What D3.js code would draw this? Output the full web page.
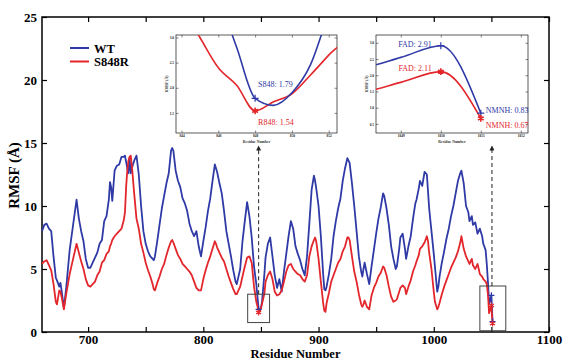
<!DOCTYPE html>
<html>
<head>
<meta charset="utf-8">
<script src="https://cdn.jsdelivr.net/npm/d3@7"></script>
<style>
  body { margin: 0; background: #fff; }
  svg text { font-family: "Liberation Serif", "Times New Roman", serif; }
</style>
</head>
<body>
<svg id="chart" width="564" height="361"></svg>
<script>
// residue numbers and RMSF (A) for the two systems
const residues = [660,662,664,666,668,670,672,673,675,676,677,679,681,684,687,690,692,694,696,698,
  700,702,704,706,708,710,712,714,716,718,719,720,721,723,725,727,729,731,732,733,734,735,736,737,738,740,742,744,746,748,
  750,752,754,756,757,758,760,762,764,766,768,770,772,773,774,776,778,780,782,784,786,788,790,792,794,796,798,
  800,802,804,806,808,810,811,812,814,816,818,820,822,824,826,828,829,830,832,834,836,838,840,842,844,845,846,847,848,849,
  850,851,852,853,854,856,858,860,862,864,866,868,870,872,874,876,878,880,882,884,886,888,890,892,894,896,897,898,
  900,902,904,905,906,907,909,911,913,915,917,919,921,923,925,926,927,929,931,933,935,937,938,939,940,942,944,946,948,
  950,952,954,956,957,959,961,963,965,967,968,970,971,973,975,976,978,980,982,984,985,987,988,990,992,994,995,996,998,
  1000,1001,1003,1004,1005,1007,1009,1011,1013,1015,1017,1019,1021,1023,1024,1026,1028,1030,1031,1033,1034,1036,1038,
  1040,1042,1043,1045,1046,1047,1048,1049,1050,1051];
const wtRmsf = [8.0,8.5,8.6,8.2,8.0,6.0,4.3,4.1,3.6,3.9,3.3,1.9,3.5,6.5,8.5,10.5,9.0,8.0,7.2,5.8,
  5.1,5.1,5.5,5.9,6.3,7.0,7.3,8.8,9.2,10.5,11.9,11.5,10.4,12.8,13.2,13.3,13.9,13.9,14.0,13.5,13.0,12.6,13.8,12.6,13.0,13.6,14.0,12.5,10.0,8.0,
  7.0,6.4,6.0,5.8,5.7,6.0,7.2,8.5,9.8,10.8,11.8,12.6,14.4,14.6,14.4,12.8,12.0,11.5,10.6,10.2,9.6,8.6,8.0,7.6,8.0,6.8,6.0,
  7.2,8.3,9.6,10.6,12.0,13.3,13.0,12.7,11.8,11.0,9.6,8.0,7.0,6.0,4.9,4.0,3.8,4.2,5.0,7.2,8.8,10.3,9.2,7.5,5.2,4.5,3.8,2.8,1.79,1.65,
  1.9,2.45,3.5,4.6,5.9,7.0,7.5,6.0,4.5,3.5,4.2,3.2,4.8,6.2,7.6,8.8,8.2,6.8,6.2,5.7,5.0,4.5,6.0,8.6,11.3,12.4,12.0,11.4,
  10.0,7.6,4.6,3.4,3.3,3.6,4.6,5.8,7.6,8.8,9.8,10.6,12.0,13.0,13.8,13.6,13.4,11.8,10.0,8.0,6.0,4.8,4.4,5.0,5.5,4.6,3.8,5.2,6.5,
  7.8,9.0,9.9,11.0,10.8,9.8,8.5,6.8,5.8,5.0,5.2,6.6,7.5,7.8,6.6,5.8,6.8,7.6,9.0,10.2,10.5,11.4,12.0,11.6,12.7,12.5,11.2,9.8,8.0,
  6.2,5.2,3.2,3.6,4.4,5.5,6.4,7.4,8.2,9.2,10.0,11.0,12.0,12.6,12.8,11.8,10.0,9.5,8.8,9.2,8.5,8.7,7.8,
  8.2,7.6,7.0,6.5,5.4,4.0,2.25,2.55,2.91,0.83];
const mutRmsf = [5.4,5.6,5.7,5.3,4.9,3.8,2.4,2.2,3.3,3.2,2.8,1.8,3.0,4.6,5.8,7.0,6.3,5.6,5.0,4.2,
  3.7,3.6,3.8,4.0,4.5,4.8,5.5,5.7,6.2,6.4,6.8,7.0,7.3,7.6,7.8,8.0,8.2,8.9,9.5,11.5,12.8,13.6,13.9,14.0,13.2,11.0,9.0,8.2,7.0,6.3,
  5.5,4.9,4.4,3.8,3.4,3.3,3.9,4.4,5.0,5.4,6.1,6.7,7.2,7.3,7.1,6.6,6.1,5.8,5.4,5.2,5.0,4.8,4.5,4.0,3.5,3.3,3.3,
  4.2,4.9,5.5,6.0,6.6,7.2,7.0,6.7,6.3,5.9,5.6,5.0,4.4,3.9,3.4,3.0,3.0,3.2,3.6,4.4,5.2,5.9,6.0,5.5,3.6,3.0,2.4,2.05,1.54,1.72,
  1.88,2.25,2.65,3.05,4.0,4.5,4.8,4.2,3.2,2.9,3.0,3.3,4.0,4.8,5.3,5.4,5.0,4.8,4.6,4.5,4.2,4.0,4.5,6.0,6.8,7.3,7.5,7.2,
  5.8,4.0,2.3,1.7,1.6,2.3,3.1,4.0,4.5,5.0,5.5,5.8,6.4,6.8,7.5,7.5,7.3,6.0,4.8,4.0,3.0,2.2,2.0,2.2,2.5,2.0,1.8,2.9,3.5,
  3.9,4.4,4.7,5.2,5.1,4.5,3.6,2.8,2.4,2.5,2.6,3.2,3.5,3.7,3.5,3.0,3.6,4.1,4.8,5.3,5.6,6.1,6.6,6.8,7.1,7.6,7.2,6.3,5.0,
  3.2,2.4,1.8,2.0,2.3,3.0,3.6,4.1,4.6,5.1,5.5,5.9,6.4,7.1,7.6,6.6,6.0,5.6,5.4,5.8,5.3,5.0,5.4,
  4.6,4.4,4.2,4.0,3.8,3.0,1.5,1.78,2.11,0.67];

const seriesNames = ["WT", "S848R"];
const xTickValues = [700, 750, 800, 850, 900, 950, 1000, 1050, 1100];
const yTickValues = [0, 5, 10, 15, 20, 25];

// highlighted residues: [residue, WT label, S848R label]
const marked = [[848, "S848", "R848"], [1050, "FAD", "FAD"], [1051, "NMNH", "NMNH"]];

const blue = "#2f3aa6", red = "#e3262b";
const font = '"Liberation Serif", "Times New Roman", serif';

const svg = d3.select("#chart");
const W = 564, H = 361;
const margin = {left: 42, right: 15, top: 17, bottom: 29};

const x = d3.scaleLinear().domain([660, 1100]).range([margin.left, W - margin.right]);
const y = d3.scaleLinear().domain([0, 25]).range([H - margin.bottom, margin.top]);

const wt = residues.map((r, i) => ({r: r, v: wtRmsf[i]}));
const mut = residues.map((r, i) => ({r: r, v: mutRmsf[i]}));
const valueAt = (arr, r) => arr.find(d => d.r === r).v;

// axes - ticks point inward
svg.append("g")
  .attr("transform", "translate(0," + y(0) + ")")
  .call(d3.axisBottom(x).tickValues(xTickValues).tickSize(-5).tickPadding(2.5)
    .tickFormat(d => d % 100 === 0 ? d : ""));
svg.append("g")
  .attr("transform", "translate(0," + y(25) + ")")
  .call(d3.axisTop(x).tickValues(xTickValues).tickSize(-5).tickFormat(""));
svg.append("g")
  .attr("transform", "translate(" + x(660) + ",0)")
  .call(d3.axisLeft(y).tickValues(yTickValues).tickSize(-5).tickPadding(5));
svg.append("g")
  .attr("transform", "translate(" + x(1100) + ",0)")
  .call(d3.axisRight(y).tickValues(yTickValues).tickSize(-5).tickFormat(""));

svg.selectAll(".domain").remove();
svg.selectAll(".tick line").attr("stroke", "#000").attr("stroke-width", 1.2);
svg.selectAll(".tick text")
  .style("font-family", font).style("font-size", "13px").style("font-weight", "bold").attr("fill", "#000");

svg.append("rect")
  .attr("x", x(660)).attr("y", y(25))
  .attr("width", x(1100) - x(660)).attr("height", y(0) - y(25))
  .attr("fill", "none").attr("stroke", "#000").attr("stroke-width", 1.5);

svg.append("text")
  .attr("x", (x(660) + x(1100)) / 2).attr("y", 358)
  .attr("text-anchor", "middle")
  .style("font-size", "12.5px").style("font-weight", "bold")
  .text("Residue Number");
svg.append("text")
  .attr("transform", "translate(19," + ((y(0) + y(25)) / 2 + 1) + ") rotate(-90)")
  .attr("text-anchor", "middle")
  .style("font-size", "15px").style("font-weight", "bold")
  .text("RMSF (Å)");

// lines
const line = d3.line().x(d => x(d.r)).y(d => y(d.v));
svg.append("path").datum(wt).attr("d", line)
  .attr("fill", "none").attr("stroke", blue).attr("stroke-width", 1.8).attr("stroke-linejoin", "round");
svg.append("path").datum(mut).attr("d", line)
  .attr("fill", "none").attr("stroke", red).attr("stroke-width", 1.8).attr("stroke-linejoin", "round");

// markers on the main plot
const plus = d3.symbol().type(d3.symbolPlus);
const star = d3.symbol().type(d3.symbolAsterisk);
marked.forEach(m => {
  svg.append("path").attr("d", plus.size(14)())
    .attr("transform", "translate(" + x(m[0]) + "," + y(valueAt(wt, m[0])) + ")")
    .attr("stroke", blue).attr("stroke-width", 1.2).attr("fill", "none");
  svg.append("path").attr("d", star.size(24)())
    .attr("transform", "translate(" + x(m[0]) + "," + y(valueAt(mut, m[0])) + ")")
    .attr("stroke", red).attr("stroke-width", 1.2).attr("fill", "none");
});

// zoom boxes and dashed arrows
const defs = svg.append("defs");
defs.append("marker").attr("id", "head")
  .attr("viewBox", "0 0 10 10").attr("refX", 5).attr("refY", 9)
  .attr("markerWidth", 5).attr("markerHeight", 6).attr("orient", "0")
  .append("path").attr("d", "M0,10 L5,0 L10,10 Z").attr("fill", "#222");

const boxes = [
  {x0: 838.5, x1: 857.5, y0: 0.75, y1: 3.0, arrowX: 848},
  {x0: 1040, x1: 1062.5, y0: 0.1, y1: 3.65, arrowX: 1050.5}
];
boxes.forEach(b => {
  svg.append("rect")
    .attr("x", x(b.x0)).attr("y", y(b.y1))
    .attr("width", x(b.x1) - x(b.x0)).attr("height", y(b.y0) - y(b.y1))
    .attr("fill", "none").attr("stroke", "#444").attr("stroke-width", 1);
  svg.append("line")
    .attr("x1", x(b.arrowX)).attr("x2", x(b.arrowX))
    .attr("y1", y(b.y1)).attr("y2", 150)
    .attr("stroke", "#222").attr("stroke-width", 1).attr("stroke-dasharray", "4,3")
    .attr("marker-end", "url(#head)");
});

// legend
const legend = svg.append("g");
[blue, red].forEach((c, i) => {
  legend.append("line").attr("x1", 70).attr("x2", 89)
    .attr("y1", 48 + i * 13.5).attr("y2", 48 + i * 13.5)
    .attr("stroke", c).attr("stroke-width", 2);
  legend.append("text").attr("x", 94).attr("y", 52.5 + i * 13.5)
    .style("font-size", "12.5px").style("font-weight", "bold")
    .text(seriesNames[i]);
});

// insets
function drawInset(opt, idx) {
  const ix = d3.scaleLinear().domain(opt.xDomain).range([opt.left, opt.left + opt.w]);
  const iy = d3.scaleLinear().domain(opt.yDomain).range([opt.top + opt.h, opt.top]);
  const g = svg.append("g");
  g.append("rect").attr("x", opt.left).attr("y", opt.top).attr("width", opt.w).attr("height", opt.h)
    .attr("fill", "#fff");

  defs.append("clipPath").attr("id", "clip" + idx)
    .append("rect").attr("x", opt.left).attr("y", opt.top).attr("width", opt.w).attr("height", opt.h);

  g.append("g").attr("transform", "translate(0," + (opt.top + opt.h) + ")")
    .call(d3.axisBottom(ix).tickValues(opt.xTicks).tickSize(-2.5).tickPadding(1.5).tickFormat(d3.format("d")));
  g.append("g").attr("transform", "translate(" + opt.left + ",0)")
    .call(d3.axisLeft(iy).tickValues(opt.yTicks).tickSize(-2.5).tickPadding(2));
  g.append("g").attr("transform", "translate(0," + opt.top + ")")
    .call(d3.axisTop(ix).tickValues(opt.xTicks).tickSize(-2.5).tickFormat(""));
  g.append("g").attr("transform", "translate(" + (opt.left + opt.w) + ",0)")
    .call(d3.axisRight(iy).tickValues(opt.yTicks).tickSize(-2.5).tickFormat(""));
  g.selectAll(".domain").remove();
  g.selectAll(".tick line").attr("stroke", "#333").attr("stroke-width", 0.6);
  g.selectAll(".tick text").style("font-family", font).style("font-size", "3.5px")
    .style("font-weight", "bold").attr("fill", "#222");

  g.append("rect").attr("x", opt.left).attr("y", opt.top).attr("width", opt.w).attr("height", opt.h)
    .attr("fill", "none").attr("stroke", "#333").attr("stroke-width", 0.8);

  g.append("text").attr("x", opt.left + opt.w / 2).attr("y", opt.top + opt.h + 9.5)
    .attr("text-anchor", "middle").style("font-size", "3.8px").style("font-weight", "bold").attr("fill", "#333")
    .text("Residue Number");
  g.append("text")
    .attr("transform", "translate(" + (opt.left - 8) + "," + (opt.top + opt.h / 2) + ") rotate(-90)")
    .attr("text-anchor", "middle").style("font-size", "3.8px").style("font-weight", "bold").attr("fill", "#333")
    .text("RMSF (Å)");

  const iline = d3.line().curve(d3.curveMonotoneX).x(d => ix(d.r)).y(d => iy(d.v));
  const inRange = d => d.r >= opt.xDomain[0] - 2 && d.r <= opt.xDomain[1] + 2;
  const cg = g.append("g").attr("clip-path", "url(#clip" + idx + ")");
  cg.append("path").datum(mut.filter(inRange)).attr("d", iline)
    .attr("fill", "none").attr("stroke", red).attr("stroke-width", 1.6);
  cg.append("path").datum(wt.filter(inRange)).attr("d", iline)
    .attr("fill", "none").attr("stroke", blue).attr("stroke-width", 1.6);

  opt.labels.forEach(l => {
    const m = marked.find(d => d[0] === l.r);
    const vb = valueAt(wt, l.r), vr = valueAt(mut, l.r);
    g.append("path").attr("d", plus.size(18)())
      .attr("transform", "translate(" + ix(l.r) + "," + iy(vb) + ")")
      .attr("stroke", blue).attr("stroke-width", 1.2).attr("fill", "none");
    g.append("path").attr("d", star.size(30)())
      .attr("transform", "translate(" + ix(l.r) + "," + iy(vr) + ")")
      .attr("stroke", red).attr("stroke-width", 1.6).attr("fill", "none");
    g.append("text").attr("x", ix(l.r) + l.bdx).attr("y", iy(vb) + l.bdy)
      .attr("text-anchor", l.anchor).attr("fill", blue).style("font-size", "8px")
      .text(m[1] + ": " + d3.format(".2f")(vb));
    g.append("text").attr("x", ix(l.r) + l.rdx).attr("y", iy(vr) + l.rdy)
      .attr("text-anchor", l.anchor).attr("fill", red).style("font-size", "8px")
      .text(m[2] + ": " + d3.format(".2f")(vr));
  });
}

drawInset({
  left: 176, top: 35, w: 161, h: 98,
  xDomain: [843.7, 852.45], yDomain: [1.1, 3.05],
  xTicks: [844, 846, 848, 850, 852], yTicks: [1.5, 2, 2.5, 3],
  labels: [{r: 848, anchor: "start", bdx: 3, bdy: -11, rdx: 3, rdy: 14}]
}, 1);

drawInset({
  left: 376, top: 35, w: 152, h: 98,
  xDomain: [1048.38, 1052.18], yDomain: [0.22, 3.24],
  xTicks: [1049, 1050, 1051, 1052], yTicks: [0.5, 1, 1.5, 2, 2.5, 3],
  labels: [
    {r: 1050, anchor: "end", bdx: -9, bdy: 1, rdx: -9, rdy: -1},
    {r: 1051, anchor: "start", bdx: 5, bdy: -0.5, rdx: 5, rdy: 10}
  ]
}, 2);
</script>
</body>
</html>
